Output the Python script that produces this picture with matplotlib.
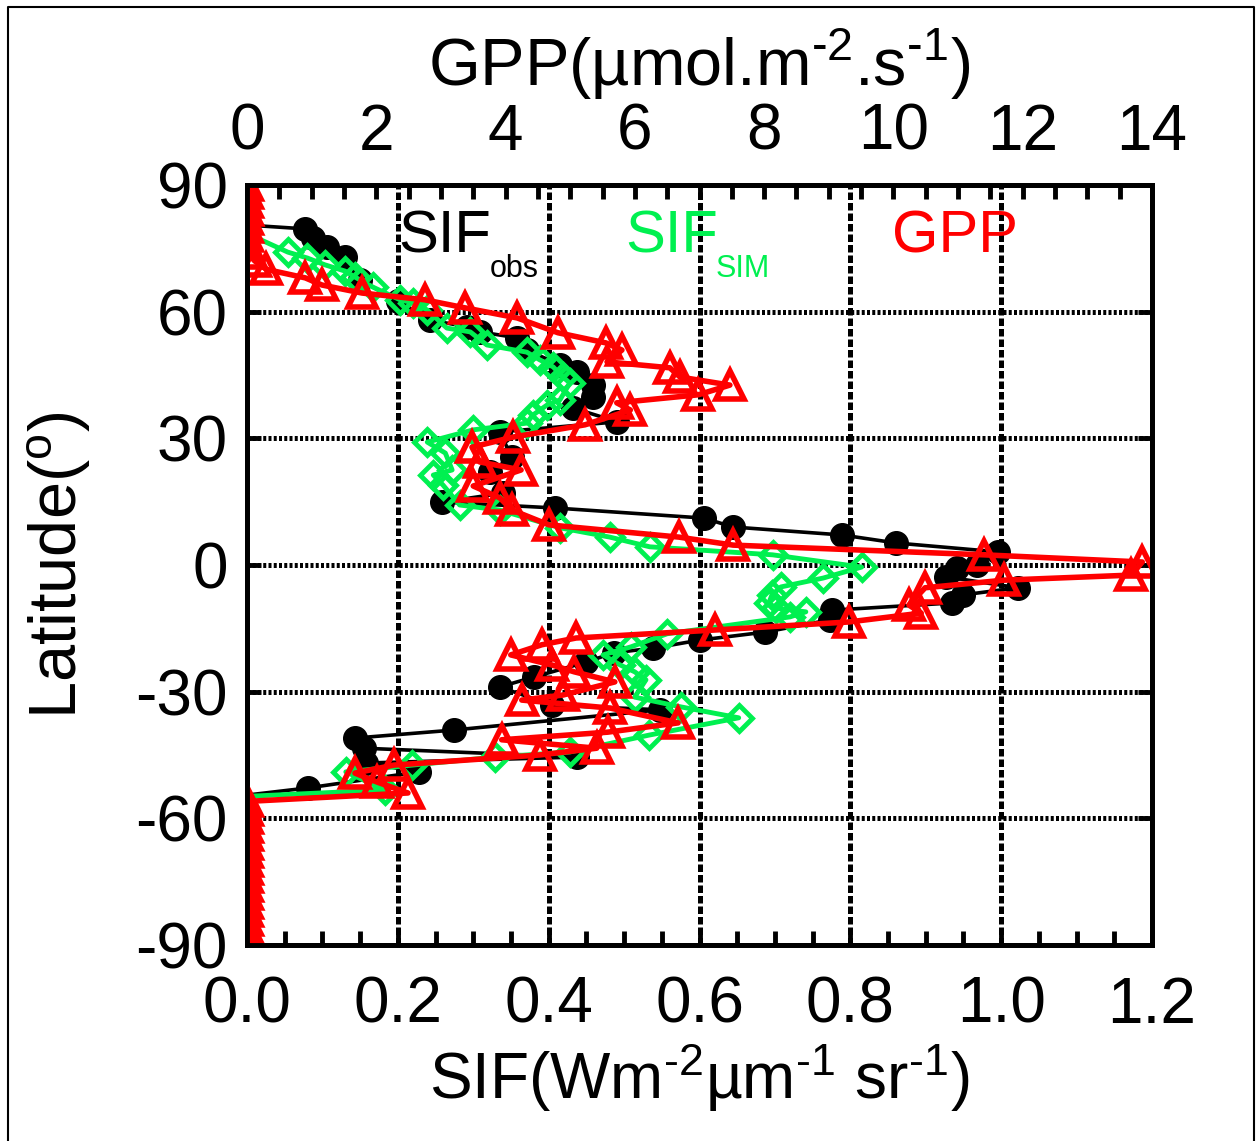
import numpy as np
import matplotlib
matplotlib.use("Agg")
import matplotlib.pyplot as plt
from matplotlib.ticker import MultipleLocator, FormatStrFormatter
from matplotlib.lines import Line2D

plt.rcParams["font.family"] = ["Liberation Sans", "DejaVu Sans"]
plt.rcParams["mathtext.fontset"] = "custom"
plt.rcParams["mathtext.rm"] = "Liberation Sans"
plt.rcParams["mathtext.default"] = "regular"
plt.rcParams["axes.unicode_minus"] = False

# observed SIF (black)
lat_obs = [80.5, 79.6, 77.5, 75.3, 73.0, 67.5, 62.5, 58.0, 56.4, 55.2, 53.8, 50.9,
           47.4, 45.7, 42.6, 39.8, 37.2, 33.9, 31.5, 25.6, 22.0, 17.0, 14.9, 13.5,
           11.1, 9.0, 7.1, 5.2, 3.1, 0.0, -0.7, -2.8, -5.4, -7.1, -9.0, -10.7,
           -13.0, -15.9, -17.8, -19.7, -20.8, -23.0, -26.5, -28.9, -33.2, -34.3,
           -39.1, -41.0, -43.4, -45.5, -46.9, -49.0, -52.8, -54.5]
sif_obs = [0.0, 0.077, 0.088, 0.106, 0.130, 0.150, 0.200, 0.243, 0.292, 0.309, 0.358, 0.371,
           0.415, 0.438, 0.459, 0.459, 0.432, 0.491, 0.335, 0.351, 0.322, 0.339, 0.259, 0.408,
           0.606, 0.644, 0.789, 0.861, 0.996, 0.968, 0.941, 0.927, 1.022, 0.949, 0.935, 0.776,
           0.773, 0.687, 0.600, 0.539, 0.486, 0.450, 0.381, 0.335, 0.405, 0.548,
           0.274, 0.143, 0.155, 0.438, 0.158, 0.228, 0.081, 0.0]

# simulated SIF (green)
lat_sim = [78.5, 74.1, 72.7, 71.1, 69.6, 68.2, 65.8, 62.8, 62.1, 60.4, 56.1, 55.2,
           52.1, 50.4, 48.6, 46.9, 44.5, 43.1, 39.1, 37.9, 35.5, 33.6, 32.0, 29.1,
           26.5, 22.5, 21.3, 18.9, 14.2, 13.0, 8.8, 6.6, 4.3, 2.4, -0.5, -3.1,
           -5.2, -7.1, -9.0, -10.2, -11.1, -12.3, -16.3, -19.4, -21.3, -23.7, -25.3,
           -27.2, -31.3, -33.6, -36.2, -40.3, -44.3, -45.5, -47.4, -49.0, -53.3, -54.8]
sif_sim = [0.0, 0.054, 0.080, 0.103, 0.130, 0.143, 0.167, 0.203, 0.220, 0.239, 0.265, 0.296,
           0.318, 0.371, 0.388, 0.406, 0.419, 0.428, 0.415, 0.398, 0.379, 0.371, 0.300, 0.239,
           0.263, 0.272, 0.247, 0.260, 0.282, 0.335, 0.415, 0.481, 0.534, 0.697, 0.815, 0.764,
           0.708, 0.696, 0.692, 0.701, 0.741, 0.720, 0.557, 0.509, 0.472, 0.495, 0.514,
           0.529, 0.514, 0.575, 0.652, 0.533, 0.428, 0.329, 0.219, 0.131, 0.183, 0.0]

# GPP (red, top axis)
lat_gpp = [90, 88, 86, 84, 82, 80, 78, 76, 74,
           72.0, 70.0, 68.0, 66.3, 64.4, 62.8, 60.9, 58.5, 55.0, 52.6, 50.9, 48.1,
           46.7, 44.5, 42.6, 40.3, 38.4, 36.7, 33.2, 30.3, 27.9, 24.4, 22.5, 18.7,
           15.9, 13.0, 9.5, 6.6, 4.7, 2.4, 0.7, -2.4, -3.6, -5.4, -9.5, -11.4,
           -13.5, -15.4, -17.3, -18.9, -21.3, -23.7, -25.3, -27.7, -30.8, -32.0,
           -33.9, -37.4, -39.6, -41.4, -43.4, -45.0, -47.4, -49.3, -51.4, -54.0,
           -56, -58, -60, -62, -64, -66, -68, -70, -72, -74, -76, -78, -80, -82,
           -84, -86, -88, -90]
gpp = [0, 0, 0, 0, 0, 0, 0, 0, 0,
       0.12, 0.30, 0.90, 1.16, 1.78, 2.75, 3.37, 4.18, 4.81, 5.55, 5.80, 5.57,
       6.54, 6.70, 7.47, 6.98, 5.72, 5.93, 5.23, 4.12, 3.48, 3.60, 4.24, 3.50,
       3.91, 4.10, 4.67, 6.68, 7.52, 11.40, 13.85, 13.68, 11.71, 10.49, 10.24, 10.43,
       9.31, 7.24, 5.09, 4.56, 4.08, 4.72, 5.06, 5.69, 4.89, 4.25,
       5.62, 6.67, 5.58, 3.94, 5.41, 4.53, 2.27, 1.67, 2.01, 2.49,
       0, 0, 0, 0, 0, 0, 0, 0, 0, 0, 0, 0, 0, 0,
       0, 0, 0, 0]

GREEN = "#00f050"
RED = "#ff0000"
FS = 46

fig = plt.figure(figsize=(12.59, 11.41), dpi=100)
ax = fig.add_axes([0.1962, 0.1718, 0.7188, 0.6661])

ax.plot(sif_obs, lat_obs, color="k", lw=2.6, marker="o", markersize=17,
        markevery=slice(1, -1))
ax.plot(sif_sim, lat_sim, color=GREEN, lw=3.5, marker="D", markersize=13,
        markerfacecolor="none", markeredgecolor=GREEN, markeredgewidth=3.5,
        markevery=slice(1, -1))

ax.set_xlim(0, 1.2)
ax.set_ylim(-90, 90)
ax.set_xticks(np.arange(0, 1.21, 0.2))
ax.xaxis.set_major_formatter(FormatStrFormatter("%.1f"))
ax.xaxis.set_minor_locator(MultipleLocator(0.05))
ax.set_yticks([90, 60, 30, 0, -30, -60, -90])

ax.set_axisbelow(True)
ax.grid(axis="x", which="major", color="k", lw=3.6, linestyle=(0, (1.5, 0.6)))
ax.grid(axis="y", which="major", color="k", lw=3.6, linestyle=(0, (0.6, 0.45)))

ax.tick_params(axis="x", which="major", direction="in", length=10, width=3.5,
               labelsize=FS, pad=22, top=True)
ax.tick_params(axis="x", which="minor", direction="in", length=10, width=3.5,
               top=True, bottom=True)
ax.tick_params(axis="y", which="major", direction="in", length=10, width=3.5,
               labelsize=FS, pad=14, left=True, right=True)

ax.set_xlabel(r"SIF(Wm$^{\text{-2}}$µm$^{\text{-1}}$ sr$^{\text{-1}}$)", fontsize=FS, labelpad=4)
ax.set_ylabel(r"Latitude($^{\text{o}}$)", fontsize=48, labelpad=30)

# GPP on its own top axis
ax2 = ax.twiny()
ax2.plot(gpp, lat_gpp, color=RED, lw=4, marker="^", markersize=20,
         markerfacecolor="none", markeredgecolor=RED, markeredgewidth=4)
ax2.set_xlim(0, 14)
ax2.set_xticks(np.arange(0, 15, 2))
ax2.xaxis.set_minor_locator(MultipleLocator(0.5))
ax2.tick_params(axis="x", which="major", direction="in", length=10, width=3.5,
                labelsize=FS, pad=16)
ax2.tick_params(axis="x", which="minor", direction="in", length=10, width=3.5)
ax2.set_xlabel(r"GPP(µmol.m$^{\text{-2}}$.s$^{\text{-1}}$)", fontsize=48, labelpad=12)

for a in (ax, ax2):
    for sp in a.spines.values():
        sp.set_linewidth(3.5)

# series labels
ax.text(0.200, 73.9, "SIF", fontsize=43, color="k", ha="left", va="baseline")
ax.text(0.322, 68.2, "obs", fontsize=22, color="k", ha="left", va="baseline")
ax.text(0.501, 73.9, "SIF", fontsize=43, color=GREEN, ha="left", va="baseline")
ax.text(0.622, 68.2, "SIM", fontsize=22, color=GREEN, ha="left", va="baseline")
ax.text(0.855, 73.9, "GPP", fontsize=43, color=RED, ha="left", va="baseline")

# frame around the whole figure
x0, x1 = 8 / 1259, 1254 / 1259
y1 = 1 - 7 / 1141
fig.add_artist(Line2D([x0, x0, x1, x1], [0, y1, y1, 0], transform=fig.transFigure,
                      color="k", lw=1.5))

fig.savefig("out.png", dpi=100)
